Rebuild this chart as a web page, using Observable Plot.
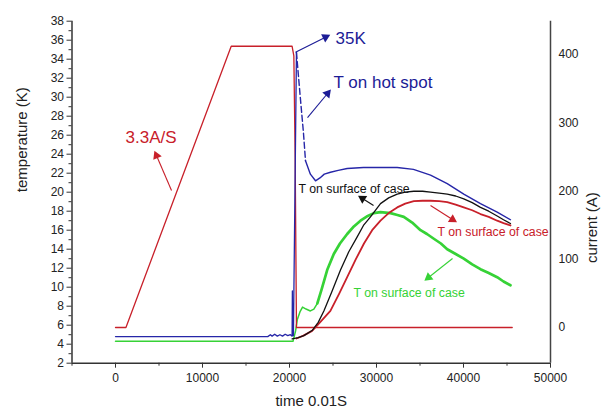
<!DOCTYPE html>
<html><head><meta charset="utf-8">
<script src="https://cdn.jsdelivr.net/npm/d3@7"></script>
<script src="https://cdn.jsdelivr.net/npm/@observablehq/plot@0.6"></script>
<style>
body{margin:0;background:#fff;}
svg{font-family:"Liberation Sans",Arial,sans-serif;}
</style>
</head><body><div id="chart"></div>
<script>
// ---------- data ----------
const xTicks = [0, 10000, 20000, 30000, 40000, 50000];
const xMinorTicks = [-5000, 5000, 15000, 25000, 35000, 45000];
const yTicks = d3.range(2, 39, 2);
const yMinorTicks = d3.range(3, 38, 2);
const currentTicks = [0, 100, 200, 300, 400];

// current (A) vs time (0.01 s)
const currentTime = [0, 1200, 13300, 20300, 20500, 20650, 20800, 45600];
const currentAmp  = [0, 0, 412, 412, 398, 250, 0, 0];

// T on hot spot (K)
const hotTime = [0, 17500, 17800, 18000, 18300, 18600, 18900, 19200, 19500, 19800, 20100, 20300, 20330, 20360, 20450, 20800];
const hotK    = [4.8, 4.8, 5.0, 4.85, 5.05, 4.85, 5.0, 4.85, 5.05, 4.9, 5.0, 4.85, 9.6, 4.9, 4.9, 34.7];
const hotDropTime = [20800, 21200, 21600, 21840];
const hotDropK    = [34.7, 30.4, 26.3, 23.3];
const hotTailTime = [21840, 22400, 22990, 23500, 24000, 24710, 25600, 26630, 28500, 30460, 32380, 34250, 36210, 38130, 40030, 41950, 43870, 45400];
const hotTailK    = [23.3, 21.9, 21.2, 21.5, 21.9, 22.1, 22.3, 22.5, 22.6, 22.6, 22.6, 22.4, 21.8, 20.9, 19.8, 18.8, 17.9, 17.1];

// T on surface of case (black)
const blackTime = [20300, 21000, 21650, 22600, 23300, 23950, 24900, 25860, 26800, 27780, 28500, 29310, 30460, 31400, 32380, 33300, 34290, 35300, 36210, 37200, 38130, 39100, 40030, 41000, 41950, 42900, 43870, 44600, 45400];
const blackK    = [4.57, 4.7, 4.9, 5.44, 6.3, 7.5, 9.6, 11.8, 13.7, 15.3, 16.5, 17.4, 18.8, 19.4, 19.8, 20.0, 20.1, 20.1, 20.0, 19.9, 19.8, 19.6, 19.3, 18.9, 18.4, 18.0, 17.5, 17.1, 16.7];

// T on surface of case (red)
const redTime = [20800, 21600, 22600, 23400, 24000, 24700, 25700, 26630, 27600, 28560, 29500, 30460, 31400, 32380, 33300, 34290, 35300, 36210, 37200, 38130, 39100, 40030, 41000, 41950, 42900, 43870, 44600, 45400];
const redK    = [4.6, 4.9, 5.4, 6.2, 6.8, 7.5, 9.3, 11.05, 12.9, 14.6, 16.0, 17.0, 17.8, 18.4, 18.8, 19.05, 19.1, 19.1, 19.05, 18.95, 18.7, 18.4, 18.1, 17.7, 17.4, 17.0, 16.75, 16.5];

// T on surface of case (green): early (thin) part and later (thick) part
const greenEarlyTime = [0, 20400, 20700, 20900, 21200, 21500, 21900, 22400, 22800, 23200];
const greenEarlyK    = [4.3, 4.3, 5.4, 6.6, 7.4, 7.9, 7.7, 7.5, 7.7, 8.3];
const greenTime = [23200, 23700, 24330, 25090, 25800, 26630, 27400, 28160, 29000, 29690, 30460, 31610, 32400, 33140, 34100, 35060, 35800, 36590, 37400, 38130, 39100, 40030, 41000, 41950, 42900, 43870, 44600, 45400];
const greenK    = [8.3, 9.8, 11.8, 13.5, 14.6, 15.6, 16.4, 17.0, 17.5, 17.8, 17.9, 17.8, 17.6, 17.4, 16.8, 16.0, 15.6, 15.1, 14.6, 14.0, 13.5, 13.0, 12.4, 11.9, 11.5, 11.05, 10.6, 10.2];

// annotations (data units)
const bigLabels = ["35K", "T on hot spot", "3.3A/S"];
const bigLabelTime = [25290, 25060, 1150];
const bigLabelK = [36.17, 31.55, 25.76];
const smallLabels = ["T on surface of case", "T on surface of case", "T on surface of case"];
const smallLabelTime = [21030, 37010, 27360];
const smallLabelK = [20.28, 15.76, 9.34];
const arrowFromTime = [20690, 22070, 6440, 29660, 36210, 38740];
const arrowFromK    = [34.74, 27.86, 20.18, 18.6, 18.6, 13.02];
const arrowToTime   = [24140, 24370, 4710, 28390, 38740, 35980];
const arrowToK      = [36.32, 30.39, 23.86, 19.34, 17.13, 11.02];

// ---------- styling ----------
const RED = "#c8202a", BLUE = "#2626a8", GREEN = "#36d236", DARKBLUE = "#1c1c96";
const bigColors = [DARKBLUE, DARKBLUE, RED];
const smallColors = ["#111", RED, GREEN];
const arrowColors = [DARKBLUE, DARKBLUE, RED, "#111", RED, GREEN];

const ampToK = d3.scaleLinear([0, 400], [5.76, 34.5]);
const rows = (t, v) => t.map((x, i) => ({t: x, v: v[i]}));

const dims = {
  width: 613, height: 413,
  marginLeft: 71.5, marginRight: 63, marginTop: 20.7, marginBottom: 50.3,
  x: {domain: [-5000, 50000]},
  y: {domain: [2, 38]}
};
const base = Plot.plot({...dims, marks: []});
const sx = base.scale("x"), sy = base.scale("y");

const arrows = arrowFromTime.map((t, i) => {
  const dx = sx.apply(arrowToTime[i]) - sx.apply(t);
  const dy = sy.apply(arrowToK[i]) - sy.apply(arrowFromK[i]);
  return {x1: t, y1: arrowFromK[i], x2: arrowToTime[i], y2: arrowToK[i],
          c: arrowColors[i], a: Math.atan2(dx, -dy) * 180 / Math.PI};
});
const bigRows = bigLabels.map((s, i) => ({s, t: bigLabelTime[i], v: bigLabelK[i], c: bigColors[i]}));
const smallRows = smallLabels.map((s, i) => ({s, t: smallLabelTime[i], v: smallLabelK[i], c: smallColors[i]}));

const chart = Plot.plot({
  ...dims,
  style: {fontFamily: "'Liberation Sans', Arial, sans-serif", fontSize: "12px", color: "#222", background: "#fff"},
  marks: [
    // axes
    Plot.axisX({ticks: xMinorTicks, tickSize: 3, tickFormat: () => "", label: null, stroke: "#333"}),
    Plot.axisX({ticks: xTicks, tickSize: 5, tickPadding: 5, tickFormat: d => String(d), label: null, stroke: "#333", fontSize: 12}),
    Plot.axisY({ticks: yMinorTicks, tickSize: 3, tickFormat: () => "", label: null, stroke: "#333"}),
    Plot.axisY({ticks: yTicks, tickSize: 5, tickPadding: 3, tickFormat: d => String(d), label: null, stroke: "#333", fontSize: 12}),
    Plot.axisY({anchor: "right", ticks: currentTicks.map(ampToK), tickSize: 0, tickPadding: 8,
                tickFormat: d => String(Math.round(ampToK.invert(d))), label: null, fontSize: 12}),
    Plot.ruleX([-5000], {stroke: "#333", strokeWidth: 1.5}),
    Plot.ruleX([50000], {stroke: "#444", strokeWidth: 1.5}),
    Plot.ruleY([2], {stroke: "#333", strokeWidth: 1.5}),
    // axis titles
    Plot.text(["temperature (K)"], {frameAnchor: "left", dx: -49.5, rotate: -90, fontSize: 15, fill: "#222"}),
    Plot.text(["current (A)"], {frameAnchor: "right", dx: 42, rotate: -90, fontSize: 15, fill: "#222"}),
    Plot.text(["time 0.01S"], {frameAnchor: "bottom", dy: 43, fontSize: 15, fill: "#222"}),
    // series
    Plot.line(rows(greenEarlyTime, greenEarlyK), {x: "t", y: "v", stroke: GREEN, strokeWidth: 1.5}),
    Plot.line(rows(greenTime, greenK), {x: "t", y: "v", stroke: GREEN, strokeWidth: 2.7}),
    Plot.line(rows(currentTime, currentAmp.map(ampToK)), {x: "t", y: "v", stroke: RED, strokeWidth: 1.3}),
    Plot.line(rows(redTime, redK), {x: "t", y: "v", stroke: RED, strokeWidth: 1.8}),
    Plot.line(rows(blackTime, blackK), {x: "t", y: "v", stroke: "#111", strokeWidth: 1.3}),
    Plot.line(rows(hotTime, hotK), {x: "t", y: "v", stroke: BLUE, strokeWidth: 1.3}),
    Plot.line(rows(hotDropTime, hotDropK), {x: "t", y: "v", stroke: BLUE, strokeWidth: 1.4, strokeDasharray: "6,3"}),
    Plot.line(rows(hotTailTime, hotTailK), {x: "t", y: "v", stroke: BLUE, strokeWidth: 1.4}),
    // annotation arrows
    Plot.link(arrows, {x1: "x1", y1: "y1", x2: "x2", y2: "y2", stroke: "c", strokeWidth: 1.1}),
    Plot.dot(arrows, {x: "x2", y: "y2", symbol: "triangle", r: 3.4, fill: "c", stroke: "none", rotate: "a"}),
    // annotation texts
    Plot.text(bigRows, {x: "t", y: "v", text: "s", fill: "c", textAnchor: "start", fontSize: 17}),
    Plot.text(smallRows, {x: "t", y: "v", text: "s", fill: "c", textAnchor: "start", fontSize: 12.3})
  ]
});
document.getElementById("chart").appendChild(chart);
</script>
</body></html>
